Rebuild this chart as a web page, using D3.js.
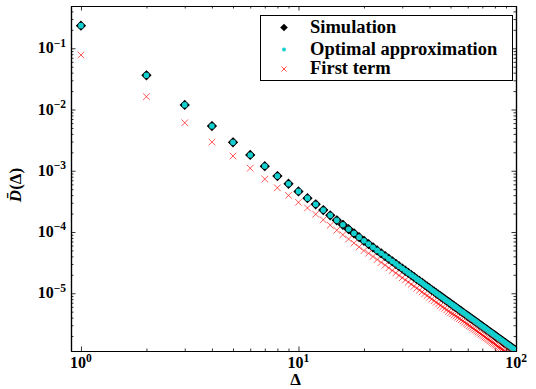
<!DOCTYPE html>
<html>
<head>
<meta charset="utf-8">
<script src="https://cdn.jsdelivr.net/npm/d3@7"></script>
</head>
<body style="margin:0; background:#fff">
<div class="container"></div>
<script>
const width = 536;
const height = 389;
const margin = { top: 6, right: 20, bottom: 38, left: 71 };

// Δ = 1 ... 100
const delta = d3.range(1, 101);

const simulation = [
  0.234, 0.0362, 0.0119, 0.00537, 0.00291, 0.00181, 0.00119, 8.18e-4, 6.14e-4, 4.60e-4,
  3.57e-4, 2.83e-4, 2.28e-4, 1.87e-4, 1.55e-4, 1.31e-4, 1.11e-4, 9.53e-5, 8.24e-5, 7.18e-5,
  6.34e-5, 5.62e-5, 5.01e-5, 4.49e-5, 4.05e-5, 3.66e-5, 3.32e-5, 3.02e-5, 2.76e-5, 2.53e-5,
  2.33e-5, 2.15e-5, 1.98e-5, 1.84e-5, 1.70e-5, 1.59e-5, 1.48e-5, 1.38e-5, 1.29e-5, 1.21e-5,
  1.13e-5, 1.07e-5, 1.00e-5, 9.46e-6, 8.93e-6, 8.44e-6, 7.99e-6, 7.56e-6, 7.17e-6, 6.81e-6,
  6.47e-6, 6.16e-6, 5.87e-6, 5.59e-6, 5.33e-6, 5.09e-6, 4.87e-6, 4.65e-6, 4.45e-6, 4.27e-6,
  4.09e-6, 3.92e-6, 3.76e-6, 3.61e-6, 3.47e-6, 3.34e-6, 3.21e-6, 3.09e-6, 2.98e-6, 2.87e-6,
  2.77e-6, 2.67e-6, 2.58e-6, 2.49e-6, 2.40e-6, 2.32e-6, 2.25e-6, 2.17e-6, 2.10e-6, 2.04e-6,
  1.97e-6, 1.91e-6, 1.85e-6, 1.80e-6, 1.74e-6, 1.69e-6, 1.64e-6, 1.59e-6, 1.55e-6, 1.50e-6,
  1.46e-6, 1.42e-6, 1.38e-6, 1.35e-6, 1.31e-6, 1.27e-6, 1.24e-6, 1.21e-6, 1.18e-6, 1.15e-6
];

const optimal = [
  0.234, 0.0362, 0.0119, 0.00537, 0.00291, 0.00181, 0.00119, 8.18e-4, 6.14e-4, 4.60e-4,
  3.57e-4, 2.83e-4, 2.28e-4, 1.87e-4, 1.55e-4, 1.31e-4, 1.11e-4, 9.53e-5, 8.24e-5, 7.18e-5,
  6.34e-5, 5.62e-5, 5.01e-5, 4.49e-5, 4.05e-5, 3.66e-5, 3.32e-5, 3.02e-5, 2.76e-5, 2.53e-5,
  2.33e-5, 2.15e-5, 1.98e-5, 1.84e-5, 1.70e-5, 1.59e-5, 1.48e-5, 1.38e-5, 1.29e-5, 1.21e-5,
  1.13e-5, 1.07e-5, 1.00e-5, 9.46e-6, 8.93e-6, 8.44e-6, 7.99e-6, 7.56e-6, 7.17e-6, 6.81e-6,
  6.47e-6, 6.16e-6, 5.87e-6, 5.59e-6, 5.33e-6, 5.09e-6, 4.87e-6, 4.65e-6, 4.45e-6, 4.27e-6,
  4.09e-6, 3.92e-6, 3.76e-6, 3.61e-6, 3.47e-6, 3.34e-6, 3.21e-6, 3.09e-6, 2.98e-6, 2.87e-6,
  2.77e-6, 2.67e-6, 2.58e-6, 2.49e-6, 2.40e-6, 2.32e-6, 2.25e-6, 2.17e-6, 2.10e-6, 2.04e-6,
  1.97e-6, 1.91e-6, 1.85e-6, 1.80e-6, 1.74e-6, 1.69e-6, 1.64e-6, 1.59e-6, 1.55e-6, 1.50e-6,
  1.46e-6, 1.42e-6, 1.38e-6, 1.35e-6, 1.31e-6, 1.27e-6, 1.24e-6, 1.21e-6, 1.18e-6, 1.15e-6
];

const firstTerm = [
  0.0778, 0.0162, 0.00608, 0.00294, 0.00174, 0.00110, 7.31e-4, 5.27e-4, 3.96e-4, 3.05e-4,
  2.47e-4, 1.95e-4, 1.58e-4, 1.29e-4, 1.07e-4, 9.03e-5, 7.67e-5, 6.59e-5, 5.70e-5, 4.97e-5,
  4.49e-5, 3.98e-5, 3.55e-5, 3.18e-5, 2.87e-5, 2.59e-5, 2.35e-5, 2.14e-5, 1.95e-5, 1.79e-5,
  1.65e-5, 1.52e-5, 1.40e-5, 1.30e-5, 1.21e-5, 1.12e-5, 1.05e-5, 9.76e-6, 9.13e-6, 8.56e-6,
  8.03e-6, 7.55e-6, 7.11e-6, 6.70e-6, 6.32e-6, 5.97e-6, 5.66e-6, 5.35e-6, 5.08e-6, 4.80e-6,
  4.62e-6, 4.42e-6, 4.23e-6, 4.04e-6, 3.86e-6, 3.69e-6, 3.52e-6, 3.37e-6, 3.22e-6, 3.09e-6,
  2.96e-6, 2.84e-6, 2.72e-6, 2.62e-6, 2.51e-6, 2.42e-6, 2.33e-6, 2.24e-6, 2.16e-6, 2.08e-6,
  2.00e-6, 1.93e-6, 1.87e-6, 1.80e-6, 1.74e-6, 1.68e-6, 1.63e-6, 1.57e-6, 1.52e-6, 1.47e-6,
  1.43e-6, 1.38e-6, 1.34e-6, 1.30e-6, 1.26e-6, 1.22e-6, 1.19e-6, 1.15e-6, 1.12e-6, 1.09e-6,
  1.06e-6, 1.03e-6, 1.00e-6, 9.74e-7, 9.48e-7, 9.23e-7, 8.98e-7, 8.75e-7, 8.53e-7, 8.31e-7
];

const xTicks = [1, 10, 100];
const yTicks = [1e-1, 1e-2, 1e-3, 1e-4, 1e-5];
const legendLabels = ["Simulation", "Optimal approximation", "First term"];

const cyan = "#14cfcf";

const xScale = d3.scaleLog()
  .domain([0.9, 100])
  .range([margin.left, width - margin.right]);

const yScale = d3.scaleLog()
  .domain([1.14e-6, 0.49])
  .range([height - margin.bottom, margin.top]);

const svg = d3.select(".container")
  .append("svg")
  .attr("width", width)
  .attr("height", height)
  .attr("font-family", "Liberation Serif")
  .attr("font-weight", "bold");

svg.append("clipPath").attr("id", "plotclip")
  .append("rect")
  .attr("x", margin.left).attr("y", margin.top)
  .attr("width", width - margin.left - margin.right)
  .attr("height", height - margin.top - margin.bottom);

// minor tick values: 2..9 times each decade, inside the domain
function minorTicks(scale) {
  const [a, b] = scale.domain().slice().sort((p, q) => p - q);
  const out = [];
  for (let e = Math.floor(Math.log10(a)); e <= Math.ceil(Math.log10(b)); e++) {
    for (let m = 2; m <= 9; m++) {
      const v = m * Math.pow(10, e);
      if (v >= a && v <= b) out.push(v);
    }
  }
  return out;
}

const bottomY = height - margin.bottom;
const rightX = width - margin.right;

function drawAxis(axisFn, scale, pos, values, size) {
  svg.append("g")
    .attr("transform", pos)
    .call(axisFn(scale).tickValues(values).tickSizeInner(-size).tickSizeOuter(0).tickFormat(""))
    .call(g => g.selectAll("line").attr("stroke", "#000").attr("stroke-width", 0.8))
    .call(g => g.select(".domain").attr("stroke", "#000").attr("stroke-width", 1.2));
}

[[4.5, xTicks], [2.5, minorTicks(xScale)]].forEach(([s, v]) => {
  drawAxis(d3.axisBottom, xScale, `translate(0,${bottomY})`, v, s);
  drawAxis(d3.axisTop, xScale, `translate(0,${margin.top})`, v, s);
});
[[4.5, yTicks], [2.5, minorTicks(yScale)]].forEach(([s, v]) => {
  drawAxis(d3.axisLeft, yScale, `translate(${margin.left},0)`, v, s);
  drawAxis(d3.axisRight, yScale, `translate(${rightX},0)`, v, s);
});

// tick labels 10^k
function powerLabel(sel, v) {
  const e = Math.round(Math.log10(v));
  sel.append("tspan").attr("font-size", 16).text("10");
  sel.append("tspan").attr("font-size", 11.5).attr("dy", -6.5)
    .text((e < 0 ? "\u2212" : "") + Math.abs(e));
}

xTicks.forEach(v => {
  svg.append("text")
    .attr("x", xScale(v))
    .attr("y", bottomY + 17)
    .attr("text-anchor", "middle")
    .call(t => powerLabel(t, v));
});

yTicks.forEach(v => {
  svg.append("text")
    .attr("x", margin.left - 5)
    .attr("y", yScale(v) + 5)
    .attr("text-anchor", "end")
    .call(t => powerLabel(t, v));
});

// axis titles
svg.append("text")
  .attr("x", xScale(10) - 3)
  .attr("y", height - 4)
  .attr("text-anchor", "middle")
  .attr("font-size", 17)
  .text("\u0394");

svg.append("text")
  .attr("transform", `translate(21,185) rotate(-90)`)
  .attr("text-anchor", "middle")
  .attr("font-size", 17)
  .call(t => {
    t.append("tspan").attr("font-style", "italic").text("D\u0304");
    t.append("tspan").text("(\u0394)");
  });

// markers
const diamond = r => `M0,${-r}L${r},0L0,${r}L${-r},0Z`;
const cross = r => `M${-r},${-r}L${r},${r}M${-r},${r}L${r},${-r}`;

const canvas = svg.append("g").attr("clip-path", "url(#plotclip)");

canvas.append("g").selectAll("path")
  .data(delta)
  .join("path")
  .attr("transform", (d, i) => `translate(${xScale(d)},${yScale(simulation[i])})`)
  .attr("d", diamond(4.3))
  .attr("fill", "#000")
  .attr("stroke", "#000")
  .attr("stroke-width", 1.2);

canvas.append("g").selectAll("circle")
  .data(delta)
  .join("circle")
  .attr("cx", d => xScale(d))
  .attr("cy", (d, i) => yScale(optimal[i]))
  .attr("r", 2.8)
  .attr("fill", cyan);

canvas.append("g").selectAll("path")
  .data(delta)
  .join("path")
  .attr("transform", (d, i) => `translate(${xScale(d)},${yScale(firstTerm[i])})`)
  .attr("d", cross(3.3))
  .attr("fill", "none")
  .attr("stroke", "red")
  .attr("stroke-opacity", 0.65)
  .attr("stroke-width", 1);

// legend
const legend = svg.append("g");
legend.append("rect")
  .attr("x", 260.5).attr("y", 15.5)
  .attr("width", 252).attr("height", 65)
  .attr("fill", "#fff")
  .attr("stroke", "#000")
  .attr("stroke-width", 1);

const rowY = [27.5, 49.5, 69];
legend.append("path")
  .attr("transform", `translate(284,${rowY[0]})`)
  .attr("d", diamond(3.8)).attr("fill", "#000");
legend.append("circle")
  .attr("cx", 284).attr("cy", rowY[1]).attr("r", 2).attr("fill", cyan);
legend.append("path")
  .attr("transform", `translate(284,${rowY[2]})`)
  .attr("d", cross(2.5)).attr("stroke", "red").attr("stroke-opacity", 0.7).attr("fill", "none");

legend.selectAll("text.lab")
  .data(legendLabels)
  .join("text")
  .attr("class", "lab")
  .attr("x", 310)
  .attr("y", (d, i) => rowY[i] + 5)
  .attr("font-size", 18.5)
  .text(d => d);
</script>
</body>
</html>
